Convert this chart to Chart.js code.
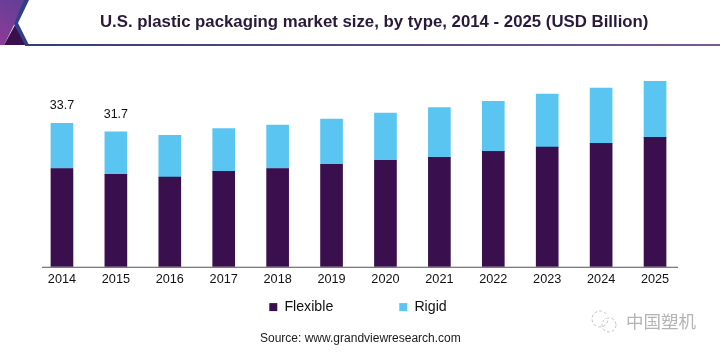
<!DOCTYPE html>
<html>
<head>
<meta charset="utf-8">
<style>
  html, body { margin: 0; padding: 0; background: #fff; }
  #wrap { width: 720px; height: 354px; }
</style>
<script src="https://cdn.jsdelivr.net/npm/chart.js@4"></script>
</head>
<body>
<div id="wrap"><canvas id="chart" width="720" height="354"></canvas></div>
<script>
var years = ['2014', '2015', '2016', '2017', '2018', '2019', '2020', '2021', '2022', '2023', '2024', '2025'];
var flexible = [23.1, 21.7, 21.1, 22.4, 23.1, 24.1, 25.0, 25.7, 27.1, 28.1, 29.0, 30.4];
var rigid = [10.6, 10.0, 9.8, 10.1, 10.2, 10.6, 11.1, 11.7, 11.8, 12.5, 13.0, 13.2];
var totalLabels = ['33.7', '31.7'];

var titleText = 'U.S. plastic packaging market size, by type, 2014 - 2025 (USD Billion)';
var sourceText = 'Source: www.grandviewresearch.com';
var watermarkText = '中国塑机';

var FONT = '"Liberation Sans", Arial, sans-serif';

// banner, header rule and the loose text around the plot
var decoration = {
  id: 'decoration',
  afterLayout: function (chart) {
    // the legend needs a wide item gap, which also pushes it down; put it back
    chart.legend.top = 234;
    chart.legend.left = 34;
  },
  beforeDraw: function (chart) {
    var ctx = chart.ctx;
    ctx.save();

    var grad = ctx.createLinearGradient(0, 45, 28, 0);
    grad.addColorStop(0, '#8e3a96');
    grad.addColorStop(1, '#5f3f97');
    ctx.fillStyle = grad;
    ctx.beginPath();
    ctx.moveTo(0, 0);
    ctx.lineTo(26, 0);
    ctx.lineTo(15, 23);
    ctx.lineTo(4, 45);
    ctx.lineTo(0, 45);
    ctx.fill();

    ctx.fillStyle = '#3a0f4e';
    ctx.beginPath();
    ctx.moveTo(4, 45);
    ctx.lineTo(15, 25);
    ctx.lineTo(26, 45);
    ctx.fill();

    ctx.fillStyle = '#2f3f8a';
    ctx.beginPath();
    ctx.moveTo(24, 0);
    ctx.lineTo(29, 0);
    ctx.lineTo(18, 23);
    ctx.lineTo(29, 45);
    ctx.lineTo(25, 45);
    ctx.lineTo(14, 24);
    ctx.fill();

    var rule = ctx.createLinearGradient(0, 0, 720, 0);
    rule.addColorStop(0, '#2f3f6e');
    rule.addColorStop(1, '#7c5a8c');
    ctx.fillStyle = rule;
    ctx.fillRect(25, 44, 695, 2);

    ctx.fillStyle = '#2a1a3a';
    ctx.font = 'bold 16.8px ' + FONT;
    ctx.textAlign = 'left';
    ctx.textBaseline = 'alphabetic';
    ctx.fillText(titleText, 100, 27);

    ctx.fillStyle = '#1a1a1a';
    ctx.font = '12px ' + FONT;
    ctx.fillText(sourceText, 260, 342);

    ctx.fillStyle = '#b4b4b4';
    ctx.font = '17.5px "Noto Sans CJK SC"';
    ctx.fillText(watermarkText, 626, 328);

    // wechat mark
    ctx.strokeStyle = '#c4c4c4';
    ctx.lineWidth = 1;
    ctx.setLineDash([3, 2]);
    ctx.beginPath();
    ctx.arc(600, 319, 8, 0.2, 5.6);
    ctx.stroke();
    ctx.beginPath();
    ctx.arc(609, 325, 7, 0, Math.PI * 2);
    ctx.stroke();
    ctx.setLineDash([]);
    ctx.restore();
  },
  afterDatasetsDraw: function (chart) {
    var ctx = chart.ctx;
    var x = chart.scales.x;
    var topBars = chart.getDatasetMeta(1).data;

    ctx.save();
    ctx.strokeStyle = '#5a4a66';
    ctx.lineWidth = 1;
    ctx.beginPath();
    ctx.moveTo(x.getPixelForTick(0) - 20, chart.chartArea.bottom + 0.5);
    ctx.lineTo(x.getPixelForTick(years.length - 1) + 23, chart.chartArea.bottom + 0.5);
    ctx.stroke();

    ctx.fillStyle = '#111';
    ctx.font = '12.5px ' + FONT;
    ctx.textAlign = 'center';
    ctx.textBaseline = 'alphabetic';
    totalLabels.forEach(function (label, i) {
      ctx.fillText(label, topBars[i].x, topBars[i].y - 14);
    });
    ctx.restore();
  }
};

var generate = function () {
  new Chart(document.getElementById('chart'), {
    type: 'bar',
    data: {
      labels: years,
      datasets: [
        {label: 'Flexible', data: flexible, backgroundColor: '#3a0f4e', barThickness: 22},
        {label: 'Rigid', data: rigid, backgroundColor: '#5bc5f1', barThickness: 22}
      ]
    },
    options: {
      responsive: false,
      animation: false,
      layout: {padding: {left: 35, right: 38, top: 54, bottom: 0}},
      scales: {
        x: {
          stacked: true,
          grid: {display: false, drawTicks: false},
          border: {display: false},
          ticks: {color: '#111', padding: 5, maxRotation: 0, font: {family: FONT, size: 12.7}}
        },
        y: {
          stacked: true,
          display: false,
          min: 0,
          max: 50
        }
      },
      plugins: {
        title: {display: false},
        tooltip: {enabled: false},
        legend: {
          position: 'bottom',
          maxHeight: 62,
          labels: {
            color: '#111',
            boxWidth: 8,
            boxHeight: 8,
            padding: 66,
            font: {family: FONT, size: 14.2}
          }
        }
      }
    },
    plugins: [decoration]
  });
};

window.onload = generate;
</script>
</body>
</html>
